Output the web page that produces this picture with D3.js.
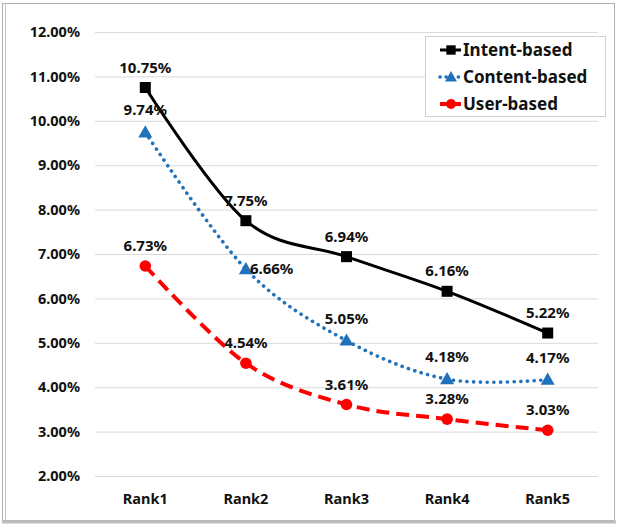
<!DOCTYPE html>
<html>
<head>
<meta charset="utf-8">
<script src="https://cdn.jsdelivr.net/npm/d3@7"></script>
<style>
  html, body { margin: 0; padding: 0; background: #fff; }
  svg text { font-family: "Noto Sans", "DejaVu Sans", sans-serif; font-weight: bold; fill: #111; }
</style>
</head>
<body>
<svg id="chart" width="634" height="526"></svg>
<script>
const categories = ["Rank1", "Rank2", "Rank3", "Rank4", "Rank5"];
const intentBased = [10.75, 7.75, 6.94, 6.16, 5.22];
const contentBased = [9.74, 6.66, 5.05, 4.18, 4.17];
const userBased = [6.73, 4.54, 3.61, 3.28, 3.03];
const yTicks = [2, 3, 4, 5, 6, 7, 8, 9, 10, 11, 12];
const seriesNames = ["Intent-based", "Content-based", "User-based"];

const svg = d3.select("#chart");

// outer frame
svg.append("rect").attr("x", 2.5).attr("y", 3.5).attr("width", 612).attr("height", 517)
  .attr("fill", "#fff").attr("stroke", "#b0b0b0").attr("stroke-width", 1);
svg.append("line").attr("x1", 5.5).attr("x2", 5.5).attr("y1", 3.5).attr("y2", 520)
  .attr("stroke", "#c8c8c8").attr("stroke-width", 1);
svg.append("line").attr("x1", 2).attr("x2", 616).attr("y1", 522).attr("y2", 522)
  .attr("stroke", "#bdbdbd").attr("stroke-width", 3);

const x = d3.scaleBand().domain(categories).range([95, 598]);
const y = d3.scaleLinear().domain([2, 12]).range([476, 32]);
const cx = d => x(d) + x.bandwidth() / 2;

// y axis + gridlines
const yAxis = svg.append("g").attr("transform", "translate(95,0)")
  .call(d3.axisLeft(y).tickValues(yTicks).tickFormat(d => d.toFixed(2) + "%")
    .tickSize(-503).tickPadding(15));
yAxis.select(".domain").remove();
yAxis.selectAll(".tick line").attr("stroke", "#d9d9d9").attr("stroke-width", 1);
yAxis.selectAll(".tick text").style("font-size", "14.5px").attr("fill", "#111");

// x axis
const xAxis = svg.append("g").attr("transform", "translate(0,476)")
  .call(d3.axisBottom(x).tickSize(0).tickPadding(18));
xAxis.select(".domain").remove();
xAxis.selectAll(".tick text").style("font-size", "14.5px").attr("fill", "#111");

const series = [
  { name: seriesNames[0], values: intentBased, color: "#000000", dash: null, width: 3, cap: "butt", marker: "square",
    labelPos: ["top", "top", "top", "top", "top"] },
  { name: seriesNames[1], values: contentBased, color: "#1f72bb", dash: "0.1,6.6", width: 3.6, cap: "round", marker: "triangle",
    labelPos: ["top", "right", "top", "top", "top"] },
  { name: seriesNames[2], values: userBased, color: "#ff0000", dash: "13,7", width: 4, cap: "butt", marker: "circle",
    labelPos: ["top", "top", "top", "top", "top"] }
];

const line = d3.line().x((d, i) => cx(categories[i])).y(d => y(d)).curve(d3.curveCardinal.tension(0));

// draw lines (bottom to top)
[2, 1, 0].forEach(k => {
  const s = series[k];
  svg.append("path").datum(s.values).attr("d", line)
    .attr("fill", "none").attr("stroke", s.color).attr("stroke-width", s.width)
    .attr("stroke-linecap", s.cap)
    .attr("stroke-dasharray", s.dash);
});

function drawMarker(g, type, px, py, color, scale) {
  scale = scale || 1;
  if (type === "square") {
    const h = 5.5 * scale;
    g.append("rect").attr("x", px - h).attr("y", py - h).attr("width", 2 * h).attr("height", 2 * h).attr("fill", color);
  } else if (type === "triangle") {
    const sym = d3.symbol().type(d3.symbolTriangle).size(85 * scale * scale);
    g.append("path").attr("d", sym).attr("transform", `translate(${px},${py + 1})`).attr("fill", color);
  } else {
    g.append("circle").attr("cx", px).attr("cy", py).attr("r", 5.8 * scale).attr("fill", color);
  }
}

const markG = svg.append("g");
series.forEach(s => {
  s.values.forEach((v, i) => drawMarker(markG, s.marker, cx(categories[i]), y(v), s.color));
});

// data labels
const labG = svg.append("g");
const topOffset = { square: 15, triangle: 17, circle: 15 };
series.forEach(s => {
  s.values.forEach((v, i) => {
    const px = cx(categories[i]), py = y(v);
    const t = labG.append("text").text(v.toFixed(2) + "%").style("font-size", "15px");
    if (s.labelPos[i] === "right") {
      t.attr("x", px + 4).attr("y", py + 5).attr("text-anchor", "start");
    } else {
      t.attr("x", px).attr("y", py - topOffset[s.marker]).attr("text-anchor", "middle");
    }
  });
});

// legend
const lg = svg.append("g");
lg.append("rect").attr("x", 425.5).attr("y", 36.5).attr("width", 180).attr("height", 80)
  .attr("fill", "#fff").attr("stroke", "#d0d0d0").attr("stroke-width", 1);
series.forEach((s, k) => {
  const ly = 50 + k * 27;
  lg.append("line").attr("x1", 440).attr("x2", 461).attr("y1", ly).attr("y2", ly)
    .attr("stroke", s.color).attr("stroke-width", s.width).attr("stroke-linecap", s.cap)
    .attr("stroke-dasharray", k === 1 ? "0.1,6" : null);
  drawMarker(lg, s.marker, 451, ly, s.color, 0.85);
  lg.append("text").attr("x", 463).attr("y", ly + 6).text(s.name).style("font-size", "17px");
});
</script>
</body>
</html>
